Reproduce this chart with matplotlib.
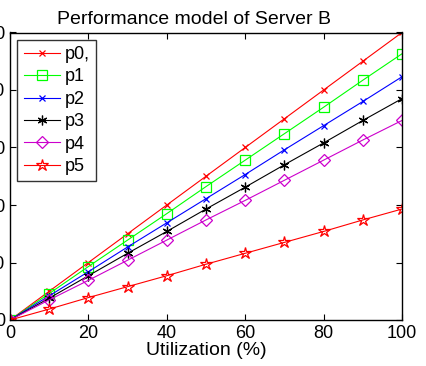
import numpy as np
import matplotlib
matplotlib.use("Agg")
import matplotlib.pyplot as plt

plt.rcParams["font.family"] = ["Liberation Sans", "DejaVu Sans"]

# ----- data -----
util = [0, 10, 20, 30, 40, 50, 60, 70, 80, 90, 100]
p0 = [0, 50, 100, 150, 200, 250, 300, 350, 400, 450, 500]
p1 = [0, 46, 93, 139, 185, 232, 278, 324, 370, 417, 463]
p2 = [0, 42, 84, 127, 169, 211, 253, 296, 338, 380, 423]
p3 = [0, 38, 77, 116, 154, 193, 231, 270, 308, 347, 385]
p4 = [0, 35, 69, 104, 139, 174, 208, 243, 278, 313, 347]
p5 = [0, 19, 39, 58, 77, 97, 116, 135, 154, 174, 193]
labels = ["p0,", "p1", "p2", "p3", "p4", "p5"]
x_ticks = [0, 20, 40, 60, 80, 100]
y_ticks = [0, 100, 200, 300, 400, 500]

fig = plt.figure(figsize=(4.27, 3.66), dpi=100)
ax = fig.add_axes([10 / 427, 46 / 366, 392 / 427, 287.5 / 366])

lw = 0.8
ax.plot(util, p0, color="red", marker="x", ms=4, mew=0.9, lw=lw, label=labels[0])
ax.plot(util, p1, color="#00ff00", marker="s", ms=7, mfc="none", mew=0.9, lw=lw, label=labels[1])
ax.plot(util, p2, color="blue", marker="x", ms=4, mew=0.9, lw=lw, label=labels[2])
ax.plot(util, p3, color="black", marker=(6, 2, 0), ms=7, mew=0.9, lw=lw, label=labels[3])
ax.plot(util, p4, color="#cc00cc", marker="D", ms=6, mfc="none", mew=0.9, lw=lw, label=labels[4])
ax.plot(util, p5, color="red", marker="*", ms=9, mfc="none", mew=0.9, lw=lw, label=labels[5])

ax.set_xlim(0, 100)
ax.set_ylim(0, 500)
ax.set_xticks(x_ticks)
ax.set_yticks(y_ticks)
ax.tick_params(direction="in", top=True, right=True, labelsize=13, length=4)
for s in ax.spines.values():
    s.set_linewidth(1.0)

ax.set_xlabel("Utilization (%)", fontsize=14, labelpad=0)
ax.set_title("Performance model of Server B", fontsize=14, x=0.47, pad=6)

leg = ax.legend(loc="upper left", fontsize=13, frameon=True, fancybox=False,
                edgecolor="black", handlelength=2.0, labelspacing=0.3,
                borderaxespad=0.4, handletextpad=0.3, borderpad=0.35)
leg.get_frame().set_linewidth(1.0)

fig.savefig("out.png", dpi=100)
